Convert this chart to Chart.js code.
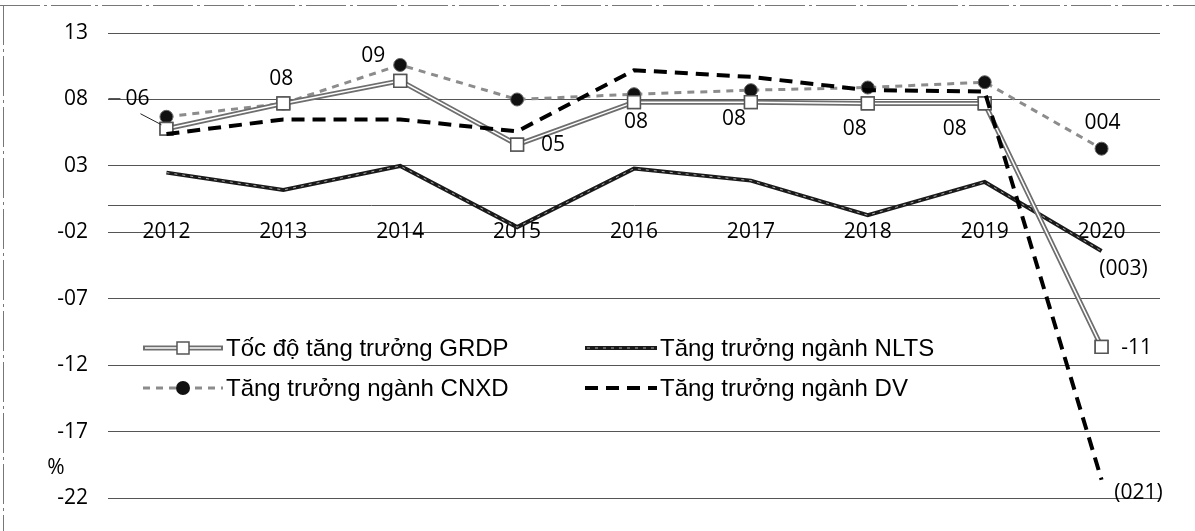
<!DOCTYPE html>
<html>
<head>
<meta charset="utf-8">
<script src="https://cdn.jsdelivr.net/npm/chart.js@4/dist/chart.umd.min.js"></script>
<style>
  html, body { margin: 0; padding: 0; background: #fff; }
  #wrap { width: 1195px; height: 531px; position: relative; }
</style>
</head>
<body>
<div id="wrap"><canvas id="chart" width="1195" height="531"></canvas></div>
<script>
var years = ['2012', '2013', '2014', '2015', '2016', '2017', '2018', '2019', '2020'];
var grdp = [5.8, 7.7, 9.4, 4.6, 7.8, 7.8, 7.7, 7.7, -10.6];
var nlts = [2.5, 1.2, 3.0, -1.6, 2.8, 1.9, -0.7, 1.8, -3.4];
var cnxd = [6.7, 7.7, 10.6, 8.0, 8.4, 8.7, 8.9, 9.3, 4.3];
var dv = [5.4, 6.5, 6.5, 5.6, 10.2, 9.7, 8.7, 8.6, -20.6];
var seriesNames = ['Tốc độ tăng trưởng GRDP', 'Tăng trưởng ngành NLTS', 'Tăng trưởng ngành CNXD', 'Tăng trưởng ngành DV'];

// data labels: [dataset, index, text, dx, dy]
var pointLabels = [
    [0, 0, '06', -29, -30],
    [0, 1, '08', -2, -24],
    [0, 2, '09', -27, -25],
    [0, 3, '05', 36, 0],
    [0, 4, '08', 2, 20],
    [0, 5, '08', -17, 17],
    [0, 6, '08', -13, 26],
    [0, 7, '08', -30, 26],
    [0, 8, '-11', 35, 1],
    [2, 8, '004', 1, -26],
    [1, 8, '(003)', 22, 18],
    [3, 8, '(021)', 37, 13]
];

var tickFont = { family: 'Open Sans, Calibri, sans-serif', size: 21 };

function pad2(v) {
    return (v < 0 ? '-' : '') + String(Math.abs(v)).padStart(2, '0');
}

var deco = {
    id: 'deco',
    afterDatasetDraw: function(chart, args) {
        var ctx = chart.ctx;
        var meta = args.meta;
        if (args.index !== 0 && args.index !== 1) return;
        ctx.save();
        ctx.beginPath();
        meta.data.forEach(function(p, i) {
            if (i === 0) ctx.moveTo(p.x, p.y); else ctx.lineTo(p.x, p.y);
        });
        if (args.index === 0) {
            ctx.strokeStyle = '#fff';
            ctx.lineWidth = 1.5;
        } else {
            ctx.strokeStyle = '#aaa';
            ctx.lineWidth = 1;
            ctx.setLineDash([3, 5]);
        }
        ctx.stroke();
        ctx.restore();
        if (args.index === 0) {
            meta.data.forEach(function(p) { p.draw(ctx, chart.chartArea); });
        }
    },
    afterDraw: function(chart) {
        var ctx = chart.ctx;
        ctx.save();
        // frame scraps
        ctx.strokeStyle = '#777';
        ctx.lineWidth = 1;
        ctx.setLineDash([40, 4, 3, 4]);
        ctx.beginPath();
        ctx.moveTo(0, 5.5); ctx.lineTo(1195, 5.5);
        ctx.moveTo(3.5, 5); ctx.lineTo(3.5, 531);
        ctx.stroke();
        ctx.setLineDash([]);

        // data labels
        ctx.fillStyle = '#000';
        ctx.font = '21px "Open Sans", Calibri, sans-serif';
        ctx.textAlign = 'center';
        ctx.textBaseline = 'middle';
        pointLabels.forEach(function(l) {
            var p = chart.getDatasetMeta(l[0]).data[l[1]];
            ctx.fillText(l[2], p.x + l[3], p.y + l[4]);
        });
        // leader line for first label
        var p0 = chart.getDatasetMeta(0).data[0];
        ctx.strokeStyle = '#222';
        ctx.lineWidth = 1;
        ctx.beginPath();
        ctx.moveTo(p0.x - 26, p0.y - 15);
        ctx.lineTo(p0.x - 5, p0.y - 4);
        ctx.moveTo(p0.x - 58, p0.y - 30);
        ctx.lineTo(p0.x - 46, p0.y - 30);
        ctx.stroke();

        // y title
        ctx.fillText('%', 56, 468);

        // legend
        var ds = chart.data.datasets;
        var cells = [[0, 143, 348], [1, 585, 348], [2, 143, 388], [3, 585, 388]];
        ctx.font = '24px "Liberation Sans", Arial, sans-serif';
        ctx.textAlign = 'left';
        cells.forEach(function(c) {
            var d = ds[c[0]];
            var x = c[1], y = c[2], w = c[1] < 300 ? 80 : 72;
            ctx.save();
            ctx.strokeStyle = d.borderColor;
            ctx.lineWidth = d.borderWidth;
            ctx.setLineDash(d.borderDash || []);
            ctx.beginPath();
            ctx.moveTo(x, y); ctx.lineTo(x + w, y);
            ctx.stroke();
            ctx.setLineDash([]);
            if (c[0] === 0) {
                ctx.strokeStyle = '#fff'; ctx.lineWidth = 1.5;
                ctx.beginPath(); ctx.moveTo(x + 2, y); ctx.lineTo(x + w - 2, y); ctx.stroke();
                ctx.fillStyle = '#fff'; ctx.strokeStyle = d.pointBorderColor; ctx.lineWidth = 1.5;
                ctx.fillRect(x + w / 2 - 6, y - 6, 12, 12);
                ctx.strokeRect(x + w / 2 - 6, y - 6, 12, 12);
            } else if (c[0] === 1) {
                ctx.strokeStyle = '#aaa'; ctx.lineWidth = 1; ctx.setLineDash([3, 5]);
                ctx.beginPath(); ctx.moveTo(x + 2, y); ctx.lineTo(x + w - 2, y); ctx.stroke();
            } else if (c[0] === 2) {
                ctx.fillStyle = d.pointBackgroundColor;
                ctx.beginPath(); ctx.arc(x + w / 2, y, 7, 0, Math.PI * 2); ctx.fill();
            }
            ctx.restore();
            ctx.fillStyle = '#000';
            ctx.fillText(seriesNames[c[0]], x + w + 3, y + 1);
        });
        ctx.restore();
    }
};

new Chart(document.getElementById('chart'), {
    type: 'line',
    data: {
        labels: years,
        datasets: [
            {
                label: seriesNames[0],
                data: grdp,
                borderColor: '#6e6e6e',
                borderWidth: 5,
                pointStyle: 'rect',
                pointRadius: 9,
                pointBackgroundColor: '#fff',
                pointBorderColor: '#555',
                pointBorderWidth: 1.5,
                order: 1
            },
            {
                label: seriesNames[1],
                data: nlts,
                borderColor: '#1a1a1a',
                borderWidth: 4,
                pointRadius: 0,
                order: 3
            },
            {
                label: seriesNames[2],
                data: cnxd,
                borderColor: '#8c8c8c',
                borderWidth: 3,
                borderDash: [7, 6],
                pointStyle: 'circle',
                pointRadius: 6.5,
                pointBackgroundColor: '#111',
                pointBorderColor: '#666',
                pointBorderWidth: 1,
                order: 2
            },
            {
                label: seriesNames[3],
                data: dv,
                borderColor: '#000',
                borderWidth: 4,
                borderDash: [13, 8],
                pointRadius: 0,
                order: 0
            }
        ]
    },
    options: {
        responsive: false,
        animation: false,
        layout: { padding: { left: 0, right: 35, top: 33, bottom: 29 } },
        plugins: {
            legend: { display: false },
            tooltip: { enabled: false }
        },
        scales: {
            x: {
                position: { y: 0 },
                offset: true,
                grid: { display: false, drawTicks: false },
                border: { display: true, color: '#555', width: 1 },
                ticks: { font: tickFont, color: '#000', padding: 14, maxRotation: 0 }
            },
            y: {
                min: -22,
                max: 13,
                afterFit: function(scale) { scale.width = 108; },
                grid: { color: '#555', drawTicks: false },
                border: { display: false },
                ticks: {
                    stepSize: 5,
                    padding: 20,
                    font: tickFont,
                    color: '#000',
                    callback: function(v) { return pad2(v); }
                }
            }
        }
    },
    plugins: [deco]
});
</script>
</body>
</html>
